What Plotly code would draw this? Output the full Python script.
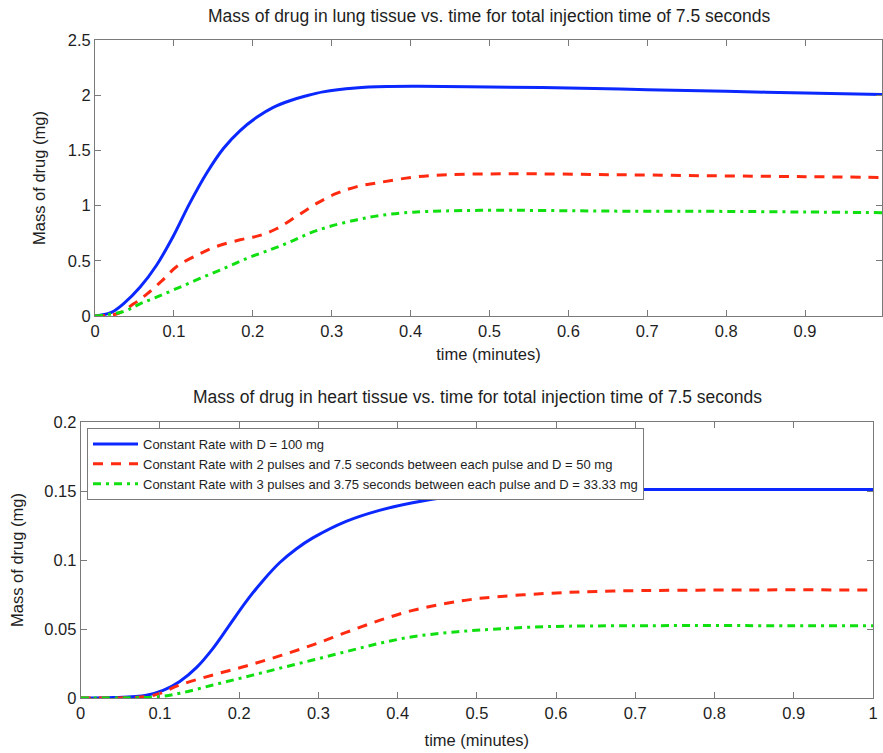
import plotly.graph_objects as go

# ---------------- data ----------------
lung_blue_t = [0, 0.02, 0.036, 0.057, 0.078, 0.099, 0.12, 0.142, 0.163, 0.184, 0.205, 0.226,
               0.247, 0.268, 0.289, 0.33, 0.37, 0.41, 0.5, 0.6, 0.7, 0.8, 0.9, 1.0]
lung_blue_y = [0, 0.03, 0.11, 0.26, 0.46, 0.72, 1.02, 1.30, 1.52, 1.68, 1.80, 1.89,
               1.95, 1.995, 2.03, 2.065, 2.078, 2.08, 2.075, 2.065, 2.05, 2.035, 2.02, 2.005]

lung_red_t = [0, 0.028, 0.049, 0.066, 0.085, 0.104, 0.129, 0.154, 0.184, 0.209, 0.23, 0.255,
              0.281, 0.306, 0.331, 0.361, 0.403, 0.446, 0.53, 0.657, 0.784, 0.9, 1.0]
lung_red_y = [0, 0.02, 0.11, 0.2, 0.32, 0.45, 0.55, 0.63, 0.69, 0.73, 0.79, 0.90,
              1.02, 1.11, 1.17, 1.21, 1.257, 1.279, 1.288, 1.28, 1.27, 1.262, 1.255]

lung_green_t = [0, 0.036, 0.057, 0.078, 0.104, 0.133, 0.163, 0.192, 0.222, 0.247, 0.272,
                0.297, 0.331, 0.361, 0.403, 0.488, 0.657, 0.784, 0.9, 1.0]
lung_green_y = [0, 0.04, 0.11, 0.17, 0.25, 0.34, 0.43, 0.52, 0.60, 0.67, 0.75,
                0.81, 0.87, 0.91, 0.94, 0.957, 0.95, 0.948, 0.942, 0.936]

heart_blue_t = [0, 0.041, 0.083, 0.104, 0.125, 0.146, 0.167, 0.188, 0.209, 0.23, 0.251, 0.272,
                0.293, 0.335, 0.377, 0.419, 0.46, 0.5, 0.55, 0.6, 0.7, 0.8, 0.9, 1.0]
heart_blue_y = [0, 0.0003, 0.002, 0.0055, 0.012, 0.022, 0.036, 0.053, 0.070, 0.085, 0.098, 0.108,
                0.116, 0.128, 0.136, 0.1415, 0.1455, 0.148, 0.1497, 0.1505, 0.151, 0.151, 0.151, 0.151]

heart_red_t = [0, 0.083, 0.1, 0.125, 0.167, 0.209, 0.251, 0.293, 0.335, 0.377, 0.419, 0.462,
               0.504, 0.588, 0.672, 0.84, 1.0]
heart_red_y = [0, 0.001, 0.0034, 0.0094, 0.0167, 0.0232, 0.0305, 0.0385, 0.0475, 0.0562, 0.0635,
               0.0686, 0.0722, 0.0758, 0.0775, 0.0783, 0.0783]

heart_green_t = [0, 0.1, 0.125, 0.167, 0.209, 0.251, 0.293, 0.335, 0.377, 0.419, 0.462, 0.504,
                 0.588, 0.714, 0.924, 1.0]
heart_green_y = [0, 0.001, 0.0034, 0.0094, 0.0154, 0.0215, 0.0275, 0.0336, 0.0396, 0.0444,
                 0.0473, 0.0493, 0.0517, 0.0524, 0.0524, 0.0524]

series_names = [
    "Constant Rate with D = 100 mg",
    "Constant Rate with 2 pulses and 7.5 seconds between each pulse and D = 50 mg",
    "Constant Rate with 3 pulses and 3.75 seconds between each pulse and D = 33.33 mg",
]

top_x_ticks = [0, 0.1, 0.2, 0.3, 0.4, 0.5, 0.6, 0.7, 0.8, 0.9]
top_x_labels = ["0", "0.1", "0.2", "0.3", "0.4", "0.5", "0.6", "0.7", "0.8", "0.9"]
bot_x_ticks = [0, 0.1, 0.2, 0.3, 0.4, 0.5, 0.6, 0.7, 0.8, 0.9, 1.0]
bot_x_labels = ["0", "0.1", "0.2", "0.3", "0.4", "0.5", "0.6", "0.7", "0.8", "0.9", "1"]
top_y_ticks = [0, 0.5, 1, 1.5, 2, 2.5]
top_y_labels = ["0", "0.5", "1", "1.5", "2", "2.5"]
bot_y_ticks = [0, 0.05, 0.1, 0.15, 0.2]
bot_y_labels = ["0", "0.05", "0.1", "0.15", "0.2"]

title_top = "Mass of drug in lung tissue vs. time for total injection time of 7.5 seconds"
title_bot = "Mass of drug in heart tissue vs. time for total injection time of 7.5 seconds"

# ---------------- styles ----------------
W, H = 883, 753
FONT = "Liberation Sans, Arial, Helvetica, sans-serif"
BLUE, RED, GREEN = "#0a28ff", "#ff2a10", "#10e010"
styles = [
    dict(color=BLUE, width=3, dash="solid"),
    dict(color=RED, width=3, dash="10px,8px"),
    dict(color=GREEN, width=3, dash="8px,5px,3px,5px"),
]
AX = "#7a7a7a"
TXT = "#1e1e1e"

fig = go.Figure()

top_sets = [(lung_blue_t, lung_blue_y), (lung_red_t, lung_red_y), (lung_green_t, lung_green_y)]
bot_sets = [(heart_blue_t, heart_blue_y), (heart_red_t, heart_red_y), (heart_green_t, heart_green_y)]

for (t, y), st, nm in zip(top_sets, styles, series_names):
    fig.add_trace(go.Scatter(x=t, y=y, mode="lines", name=nm, showlegend=False,
                             line=dict(shape="spline", smoothing=1.0, **st),
                             xaxis="x", yaxis="y"))
for (t, y), st, nm in zip(bot_sets, styles, series_names):
    fig.add_trace(go.Scatter(x=t, y=y, mode="lines", name=nm, showlegend=True,
                             line=dict(shape="spline", smoothing=1.0, **st),
                             xaxis="x2", yaxis="y2"))


def px_x(p):
    return p / W


def px_y(p):
    return 1 - p / H


common_axis = dict(showline=True, linecolor=AX, linewidth=1, mirror="ticks",
                   ticks="inside", ticklen=6, tickcolor=AX, tickwidth=1,
                   showgrid=False, zeroline=False, automargin=False,
                   tickfont=dict(family=FONT, size=16.5, color=TXT))

fig.update_layout(
    width=W, height=H,
    margin=dict(l=0, r=0, t=0, b=0),
    paper_bgcolor="white", plot_bgcolor="white",
    font=dict(family=FONT, size=16, color=TXT),
    xaxis=dict(domain=[px_x(95), px_x(882)], range=[0, 0.9975], anchor="y",
               tickvals=top_x_ticks, ticktext=top_x_labels,
               title=dict(text="time (minutes)", standoff=9, font=dict(size=16.5)),
               **common_axis),
    yaxis=dict(domain=[px_y(316), px_y(40)], range=[0, 2.5], anchor="x",
               tickvals=top_y_ticks, ticktext=top_y_labels,
               title=dict(text="Mass of drug (mg)", standoff=17, font=dict(size=16.5)),
               **common_axis),
    xaxis2=dict(domain=[px_x(80.7), px_x(873)], range=[0, 1], anchor="y2",
                tickvals=bot_x_ticks, ticktext=bot_x_labels,
                title=dict(text="time (minutes)", standoff=13, font=dict(size=16.5)),
                **common_axis),
    yaxis2=dict(domain=[px_y(698), px_y(422)], range=[0, 0.2], anchor="x2",
                tickvals=bot_y_ticks, ticktext=bot_y_labels,
                title=dict(text="Mass of drug (mg)", standoff=16, font=dict(size=16.5)),
                **common_axis),
    legend=dict(x=px_x(87), y=px_y(428), xanchor="left", yanchor="top",
                bgcolor="white", bordercolor=AX, borderwidth=1, itemwidth=45,
                font=dict(family=FONT, size=13, color=TXT)),
    annotations=[
        dict(text=title_top, x=px_x(489), y=px_y(16), xref="paper", yref="paper",
             xanchor="center", yanchor="middle", showarrow=False,
             font=dict(family=FONT, size=17.5, color=TXT)),
        dict(text=title_bot, x=px_x(477), y=px_y(397), xref="paper", yref="paper",
             xanchor="center", yanchor="middle", showarrow=False,
             font=dict(family=FONT, size=17.5, color=TXT)),
    ],
)

fig.write_html("out.html")
